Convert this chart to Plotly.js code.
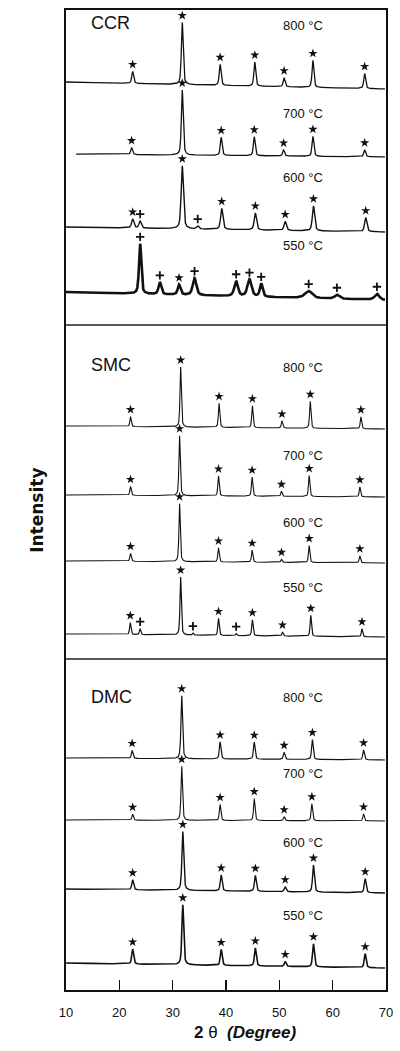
<!DOCTYPE html>
<html>
<head>
<meta charset="utf-8">
<script src="https://cdn.plot.ly/plotly-3.0.1.min.js"></script>
<style>html,body{margin:0;padding:0;background:#fff}#chart{width:400px;height:1051px}</style>
</head>
<body>
<div id="chart"></div>
<script>
// ---------------- DATA ----------------
const panels = ['CCR', 'SMC', 'DMC'];
const temps = ['800 °C', '700 °C', '600 °C', '550 °C'];
const xTicks = [10, 20, 30, 40, 50, 60, 70];

// peak positions (2θ, degree), intensities (a.u.) and phase marks ('*' perovskite, '+' other)
const CCR800_pos = [22.5, 31.8, 38.9, 45.4, 50.9, 56.3, 66.0];
const CCR800_int = [12, 62, 21, 24, 9, 27, 15];
const CCR800_mark = ['*', '*', '*', '*', '*', '*', '*'];

const CCR700_pos = [22.3, 31.8, 39.1, 45.3, 50.8, 56.3, 66.0];
const CCR700_int = [7, 65, 18, 19, 6, 20, 7];
const CCR700_mark = ['*', '*', '*', '*', '*', '*', '*'];

const CCR600_pos = [22.5, 23.9, 31.8, 34.7, 39.2, 45.5, 51.1, 56.4, 66.2];
const CCR600_int = [9, 7, 63, 3, 21, 17, 9, 25, 14];
const CCR600_mark = ['*', '+', '*', '+', '*', '*', '*', '*', '*'];

const CCR550_pos = [23.9, 27.6, 31.2, 34.1, 41.9, 44.4, 46.6, 55.5, 60.8, 68.3];
const CCR550_int = [50, 12, 10, 17, 15, 17, 13, 7, 4, 6];
const CCR550_fwhm = [0.5, 0.6, 0.6, 0.8, 0.8, 0.9, 0.6, 1.6, 1.0, 1.0];
const CCR550_mark = ['+', '+', '*', '+', '+', '+', '+', '+', '+', '+'];

const SMC800_pos = [22.1, 31.5, 38.7, 44.95, 50.5, 55.8, 65.3];
const SMC800_int = [10, 60, 24, 22, 7, 27, 12];
const SMC800_mark = ['*', '*', '*', '*', '*', '*', '*'];

const SMC700_pos = [22.1, 31.3, 38.6, 44.9, 50.4, 55.6, 65.1];
const SMC700_int = [9, 60, 20, 19, 5, 21, 10];
const SMC700_mark = ['*', '*', '*', '*', '*', '*', '*'];

const SMC600_pos = [22.1, 31.3, 38.6, 44.9, 50.4, 55.6, 65.1];
const SMC600_int = [8, 58, 14, 12, 3, 17, 7];
const SMC600_mark = ['*', '*', '*', '*', '*', '*', '*'];

const SMC550_pos = [22.05, 23.9, 31.5, 33.8, 38.6, 41.9, 44.95, 50.6, 55.9, 65.5];
const SMC550_int = [12, 6, 58, 2, 17, 2, 16, 4, 21, 8];
const SMC550_mark = ['*', '+', '*', '+', '*', '+', '*', '*', '*', '*'];

const DMC800_pos = [22.4, 31.7, 38.9, 45.3, 50.9, 56.2, 65.8];
const DMC800_int = [8, 63, 17, 17, 7, 20, 10];
const DMC800_mark = ['*', '*', '*', '*', '*', '*', '*'];

const DMC700_pos = [22.5, 31.7, 38.9, 45.3, 50.9, 56.1, 65.8];
const DMC700_int = [6, 54, 16, 22, 4, 17, 7];
const DMC700_mark = ['*', '*', '*', '*', '*', '*', '*'];

const DMC600_pos = [22.5, 31.9, 39.1, 45.5, 51.1, 56.4, 66.1];
const DMC600_int = [10, 59, 16, 16, 5, 27, 14];
const DMC600_mark = ['*', '*', '*', '*', '*', '*', '*'];

const DMC550_pos = [22.5, 31.9, 39.1, 45.5, 51.1, 56.4, 66.1];
const DMC550_int = [15, 60, 16, 18, 5, 23, 14];
const DMC550_mark = ['*', '*', '*', '*', '*', '*', '*'];

// ---------------- LAYOUT / STYLE (stacking, widths) ----------------
const patterns = [
  {panel: 0, temp: 0, pos: CCR800_pos, ints: CCR800_int, marks: CCR800_mark, off: 901, bg: 7, fwhm: 0.4, lw: 1.3, x0: 10, labelY: 965},
  {panel: 0, temp: 1, pos: CCR700_pos, ints: CCR700_int, marks: CCR700_mark, off: 833, bg: 3, fwhm: 0.4, lw: 1.3, x0: 11.9, labelY: 877},
  {panel: 0, temp: 2, pos: CCR600_pos, ints: CCR600_int, marks: CCR600_mark, off: 758, bg: 5, fwhm: 0.5, lw: 1.4, x0: 10, labelY: 813},
  {panel: 0, temp: 3, pos: CCR550_pos, ints: CCR550_int, marks: CCR550_mark, off: 690, bg: 8, fwhm: CCR550_fwhm, lw: 2.6, x0: 10, labelY: 745},
  {panel: 1, temp: 0, pos: SMC800_pos, ints: SMC800_int, marks: SMC800_mark, off: 561, bg: 3, fwhm: 0.3, lw: 1.1, x0: 10, labelY: 623},
  {panel: 1, temp: 1, pos: SMC700_pos, ints: SMC700_int, marks: SMC700_mark, off: 493, bg: 2, fwhm: 0.3, lw: 1.1, x0: 10, labelY: 535},
  {panel: 1, temp: 2, pos: SMC600_pos, ints: SMC600_int, marks: SMC600_mark, off: 427, bg: 2, fwhm: 0.3, lw: 1.1, x0: 10, labelY: 468},
  {panel: 1, temp: 3, pos: SMC550_pos, ints: SMC550_int, marks: SMC550_mark, off: 353, bg: 3, fwhm: 0.3, lw: 1.2, x0: 10, labelY: 403},
  {panel: 2, temp: 0, pos: DMC800_pos, ints: DMC800_int, marks: DMC800_mark, off: 230, bg: 2, fwhm: 0.35, lw: 1.2, x0: 10, labelY: 293},
  {panel: 2, temp: 1, pos: DMC700_pos, ints: DMC700_int, marks: DMC700_mark, off: 169, bg: 1, fwhm: 0.32, lw: 1.1, x0: 10, labelY: 217},
  {panel: 2, temp: 2, pos: DMC600_pos, ints: DMC600_int, marks: DMC600_mark, off: 97, bg: 4, fwhm: 0.4, lw: 1.4, x0: 10, labelY: 148},
  {panel: 2, temp: 3, pos: DMC550_pos, ints: DMC550_int, marks: DMC550_mark, off: 22, bg: 5, fwhm: 0.4, lw: 1.6, x0: 10, labelY: 75}
];
const panelLabelY = [967, 625, 293];
const separators = [665, 331];
const markGap = 7;

// pseudo-Voigt peak profile
function profile(x, c, h, w) {
  const d = (x - c) / (w / 2);
  const lor = 1 / (1 + d * d);
  const gau = Math.exp(-Math.LN2 * d * d);
  return h * (0.55 * lor + 0.45 * gau);
}

const traces = [];
patterns.forEach(p => {
  const xs = [], ys = [];
  for (let x = p.x0; x <= 69.8 + 1e-9; x += 0.02) {
    let y = p.off + p.bg * (70 - x) / 60;
    for (let i = 0; i < p.pos.length; i++) {
      const w = Array.isArray(p.fwhm) ? p.fwhm[i] : p.fwhm;
      y += profile(x, p.pos[i], p.ints[i], w);
    }
    xs.push(+x.toFixed(2)); ys.push(y);
  }
  traces.push({
    type: 'scatter', mode: 'lines', x: xs, y: ys,
    name: panels[p.panel] + ' ' + temps[p.temp],
    line: {color: '#111', width: p.lw, shape: 'linear'},
    hoverinfo: 'skip', showlegend: false
  });
  ['*', '+'].forEach(m => {
    const mx = [], my = [];
    p.pos.forEach((c, i) => {
      if (p.marks[i] !== m) return;
      mx.push(c);
      my.push(p.off + p.bg * (70 - c) / 60 + p.ints[i] + markGap);
    });
    if (!mx.length) return;
    traces.push({
      type: 'scatter', mode: 'markers', x: mx, y: my, showlegend: false, hoverinfo: 'skip',
      marker: m === '*'
        ? {symbol: 'star', size: 7, color: '#111', line: {width: 0}}
        : {symbol: 'cross-thin', size: 6, color: '#111', line: {width: 1.8, color: '#111'}}
    });
  });
});

const FONT = 'Arial, "Liberation Sans", Helvetica, sans-serif';
const annotations = [];
patterns.forEach(p => {
  annotations.push({x: 54.4, y: p.labelY, xref: 'x', yref: 'y', text: temps[p.temp],
    showarrow: false, font: {family: FONT, size: 13, color: '#111'}});
});
panels.forEach((t, i) => {
  annotations.push({x: 14.4, y: panelLabelY[i], xref: 'x', yref: 'y', text: t, xanchor: 'left',
    showarrow: false, font: {family: FONT, size: 18, color: '#111'}});
});
// axis titles placed as in the original figure
annotations.push({x: 0.56, y: -0.043, xref: 'paper', yref: 'paper', yanchor: 'middle',
  text: '<b>2</b> θ  <b><i>(Degree)</i></b>', showarrow: false,
  font: {family: FONT, size: 17, color: '#111'}});
annotations.push({x: -0.128, y: 0.489, xref: 'paper', yref: 'paper', textangle: -90,
  text: '<b>Intensity</b>', showarrow: false,
  font: {family: '"DejaVu Sans", sans-serif', size: 17, color: '#111'}});

const shapes = separators.map(y => ({type: 'line', xref: 'paper', yref: 'y', x0: 0, x1: 1, y0: y, y1: y,
  line: {color: '#222', width: 1.4}}));

const layout = {
  width: 400, height: 1051,
  margin: {l: 66, r: 14, t: 10, b: 61},
  paper_bgcolor: '#fff', plot_bgcolor: '#fff',
  showlegend: false,
  xaxis: {range: [10, 70], tickvals: xTicks, ticktext: xTicks.map(String), ticks: 'inside', ticklen: 10,
    tickwidth: 1.5, tickcolor: '#111', showline: true, mirror: true, linewidth: 2.2, linecolor: '#111',
    showgrid: false, zeroline: false, ticklabelstandoff: 9,
    tickfont: {family: FONT, size: 13, color: '#111'}},
  yaxis: {range: [0, 980], showticklabels: false, ticks: '', showline: true, mirror: true,
    linewidth: 2.2, linecolor: '#111', showgrid: false, zeroline: false},
  annotations: annotations,
  shapes: shapes
};

Plotly.newPlot('chart', traces, layout, {staticPlot: true, displayModeBar: false});
</script>
</body>
</html>
